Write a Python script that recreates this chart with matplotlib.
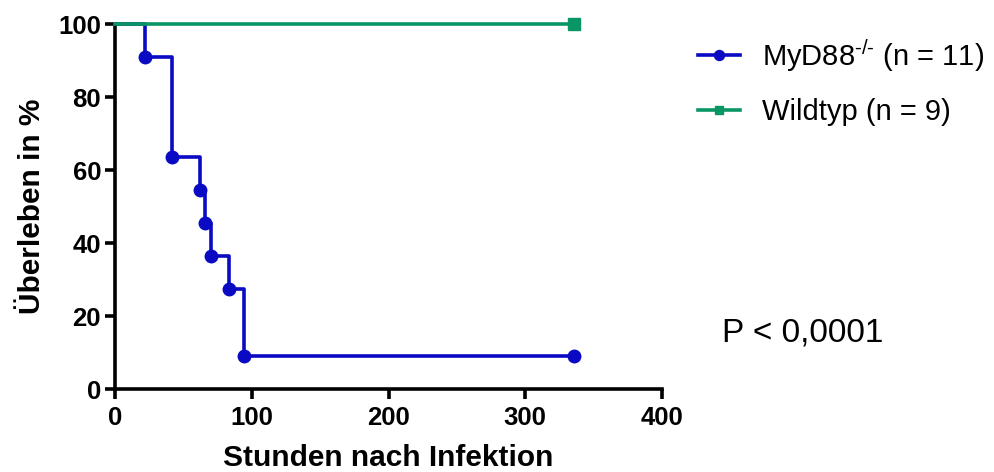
import matplotlib
matplotlib.use("Agg")
import matplotlib.pyplot as plt

# survival curves (Kaplan-Meier steps)
myd88_hours = [0, 22, 42, 62, 66, 70, 83, 94, 336]
myd88_surv = [100, 90.9, 63.6, 54.5, 45.5, 36.4, 27.3, 9.1, 9.1]
wt_hours = [0, 336]
wt_surv = [100, 100]

x_ticks = [0, 100, 200, 300, 400]
y_ticks = [0, 20, 40, 60, 80, 100]

labels = [r"MyD88$^{\text{-/-}}$ (n = 11)", "Wildtyp (n = 9)"]
p_text = "P < 0,0001"

blue = "#0a0ac4"
green = "#0a9664"

plt.rcParams["font.family"] = ["Liberation Sans", "DejaVu Sans"]
plt.rcParams["mathtext.fontset"] = "custom"
plt.rcParams["mathtext.rm"] = "Liberation Sans"
plt.rcParams["mathtext.default"] = "rm"

fig = plt.figure(figsize=(9.94, 4.72), dpi=100)
ax = fig.add_axes([0.1157, 0.1758, 0.5503, 0.773])

l1, = ax.step(myd88_hours, myd88_surv, where="post", color=blue, lw=2.6,
              marker="o", markersize=9, markevery=list(range(1, len(myd88_hours))),
              clip_on=False, zorder=3)
l2, = ax.step(wt_hours, wt_surv, where="post", color=green, lw=2.6,
              marker="s", markersize=8, markevery=[1],
              clip_on=False, zorder=3)

ax.set_xlim(0, 400)
ax.set_ylim(0, 100)
ax.set_xticks(x_ticks)
ax.set_yticks(y_ticks)
for s in ["top", "right"]:
    ax.spines[s].set_visible(False)
for s in ["left", "bottom"]:
    ax.spines[s].set_linewidth(2.6)
ax.tick_params(width=2.6, length=7, direction="out", labelsize=18.5)
ax.tick_params(axis="x", pad=5)
ax.tick_params(axis="y", pad=3)
for t in ax.get_xticklabels() + ax.get_yticklabels():
    t.set_fontweight("bold")

ax.set_xlabel("Stunden nach Infektion", fontsize=21.5, fontweight="bold", labelpad=10)
ax.set_ylabel("Überleben in %", fontsize=21.5, fontweight="bold", labelpad=9)

fig.legend([l1, l2], labels, loc="center left", bbox_to_anchor=(0.702, 0.827),
           frameon=False, fontsize=21, handlelength=1.45, handletextpad=0.75,
           labelspacing=0.85, borderpad=0, borderaxespad=0, markerscale=0.8)

fig.text(0.726, 0.295, p_text, fontsize=24, va="center", ha="left")

fig.savefig("out.png", dpi=100)
